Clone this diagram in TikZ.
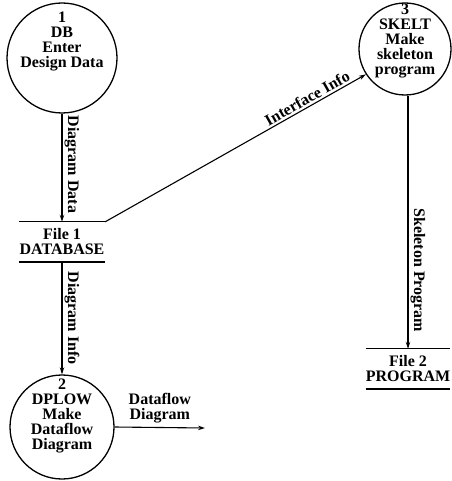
\documentclass[tikz,border=0pt]{standalone}
\usepackage{fontspec}
\setmainfont{Liberation Serif}
\usetikzlibrary{arrows.meta}
\begin{document}
\begin{tikzpicture}[x=1pt,y=-1pt,
  proc/.style={draw, circle, line width=1.3pt, inner sep=0pt},
  lbl/.style={font=\bfseries\fontsize{16}{15}\selectfont, align=center, inner sep=0pt},
  flow/.style={line width=1.1pt, -{Stealth[length=7pt,width=4.5pt]}},
  vlab/.style={lbl, rotate=-90, anchor=south, inner sep=2pt},
  store/.style={lbl, minimum width=86pt, minimum height=40pt}]
\useasboundingbox (0,0) rectangle (451,481);
% processes
\node[proc, minimum size=110pt] (p1) at (62,58) {};
\node[lbl] (t1) at (62,41) {1\\DB\\Enter\\Design Data};
\node[proc, minimum size=92pt] (p3) at (405,49) {};
\node[lbl] (t3) at (405,41) {3\\SKELT\\Make\\skeleton\\program};
\node[proc, minimum size=104pt] (p2) at (62,427) {};
\node[lbl] (t2) at (62,416) {2\\DPLOW\\Make\\Dataflow\\Diagram};
% stores
\node[store] (db) at (62,242) {File 1\\DATABASE};
\draw[line width=1.1pt] (db.north west) -- (db.north east);
\draw[line width=1.8pt] (db.south west) -- (db.south east);
\node[store, minimum width=78pt] (f2) at (408,369) {File 2\\PROGRAM};
\draw[line width=1.1pt] (f2.north west) -- (f2.north east);
\draw[line width=1.8pt] (f2.south west) -- (f2.south east);
% flows
\draw[flow] (p1) -- node[vlab, pos=0.47] {Diagram Data} (db.north);
\draw[flow] (db.south) -- node[vlab] {Diagram Info} (p2);
\draw[flow] (db.north east) -- node[lbl, sloped, above=2pt, pos=0.79] {Interface Info} (p3.213);
\draw[flow] (p3.south -| f2.north) -- node[vlab, pos=0.69] {Skeleton Program} (f2.north);
\coordinate (out) at (205,428);
\draw[flow] (p2.east) -- node[lbl, above=4pt] {Dataflow\\Diagram} (out);
\end{tikzpicture}
\end{document}
